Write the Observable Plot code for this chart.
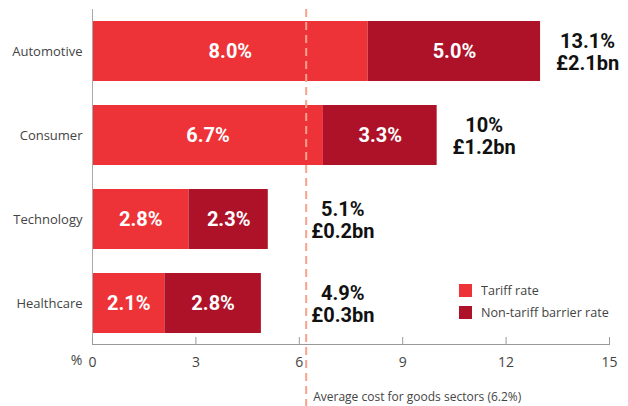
<!DOCTYPE html>
<html><head><meta charset="utf-8">
<script src="https://cdn.jsdelivr.net/npm/d3@7"></script>
<script src="https://cdn.jsdelivr.net/npm/@observablehq/plot@0.6"></script>
<style>
body{margin:0;background:#fff;}
#chart{position:relative;width:628px;height:406px;}
#legend{position:absolute;left:459px;top:279px;font-family:"Open Sans",sans-serif;font-size:12.6px;color:#444;}
#legend .item{display:flex;align-items:center;height:22px;}
#legend .sw{width:13px;height:13px;margin-right:9px;}
</style></head><body><div id="chart"></div>
<script>
const sectors = ["Automotive", "Consumer", "Technology", "Healthcare"];
const tariffRate = [8.0, 6.7, 2.8, 2.1];
const nonTariffRate = [5.0, 3.3, 2.3, 2.8];
const totalRateLabels = ["13.1%", "10%", "5.1%", "4.9%"];
const totalCostLabels = ["£2.1bn", "£1.2bn", "£0.2bn", "£0.3bn"];
const xTicks = [0, 3, 6, 9, 12, 15];
const averageCost = 6.2;
const seriesNames = ["Tariff rate", "Non-tariff barrier rate"];
const seriesColors = ["#ee3338", "#ae1229"];

const rows = sectors.flatMap((s, i) => [
  {sector: s, series: seriesNames[0], value: tariffRate[i]},
  {sector: s, series: seriesNames[1], value: nonTariffRate[i]}
]);
const totals = sectors.map((s, i) => ({
  sector: s,
  end: tariffRate[i] + nonTariffRate[i],
  label: totalRateLabels[i] + "\n" + totalCostLabels[i]
}));

const W = 628, H = 406, mT = 9, mB = 61, frameH = H - mT - mB;

const chart = Plot.plot({
  width: W, height: H,
  marginLeft: 92, marginRight: 19, marginTop: mT, marginBottom: mB,
  style: {fontFamily: "'Open Sans', sans-serif", background: "#fff"},
  x: {domain: [0, 15], axis: null},
  y: {domain: sectors, paddingInner: 0.286, paddingOuter: 0.143, axis: null},
  color: {domain: seriesNames, range: seriesColors},
  marks: [
    Plot.axisY({tickSize: 0, tickPadding: 10, fontSize: 13, fill: "#444", label: null}),
    Plot.axisX({ticks: xTicks, tickSize: 0, tickPadding: 12, fontSize: 14, fill: "#444", label: null}),
    Plot.barX(rows, {x: "value", y: "sector", fill: "series"}),
    Plot.text(rows, Plot.stackX({x: "value", y: "sector", text: d => d.value.toFixed(1) + "%",
      fill: "#fff", fontSize: 20, fontWeight: 700, fontFamily: "Roboto"})),
    Plot.text(totals, {x: d => Math.max(d.end, averageCost - 0.3), y: "sector", text: "label",
      dx: 47, textAnchor: "middle", lineHeight: 1.1, fill: "#111", fontSize: 20, fontWeight: 700, fontFamily: "Roboto"}),
    Plot.ruleX([0], {stroke: "#aaa"}),
    Plot.barX([0], {x1: 0, x2: 15, insetTop: frameH - 1, fill: "#999"}),
    Plot.ruleX(xTicks, {x: d => d, insetTop: frameH - 8, stroke: "#999"}),
    Plot.ruleX([averageCost], {x: d => d, stroke: "#f6a28d", strokeWidth: 2, strokeDasharray: "8,5", insetBottom: -mB}),
    Plot.text([averageCost], {x: d => d, frameAnchor: "bottom", text: d => `Average cost for goods sectors (${d}%)`,
      textAnchor: "start", dx: 7, dy: 55, fontSize: 12, fill: "#444"}),
    Plot.text(["%"], {x: () => 0, frameAnchor: "bottom", text: d => d, dx: -16, dy: 19, fontSize: 14, fill: "#444"})
  ]
});
const container = document.getElementById("chart");
container.appendChild(chart);
const legend = document.createElement("div");
legend.id = "legend";
seriesNames.forEach((n, i) => {
  const item = document.createElement("div");
  item.className = "item";
  const sw = document.createElement("span");
  sw.className = "sw";
  sw.style.background = seriesColors[i];
  const t = document.createElement("span");
  t.textContent = n;
  item.appendChild(sw); item.appendChild(t);
  legend.appendChild(item);
});
container.appendChild(legend);
</script></body></html>
